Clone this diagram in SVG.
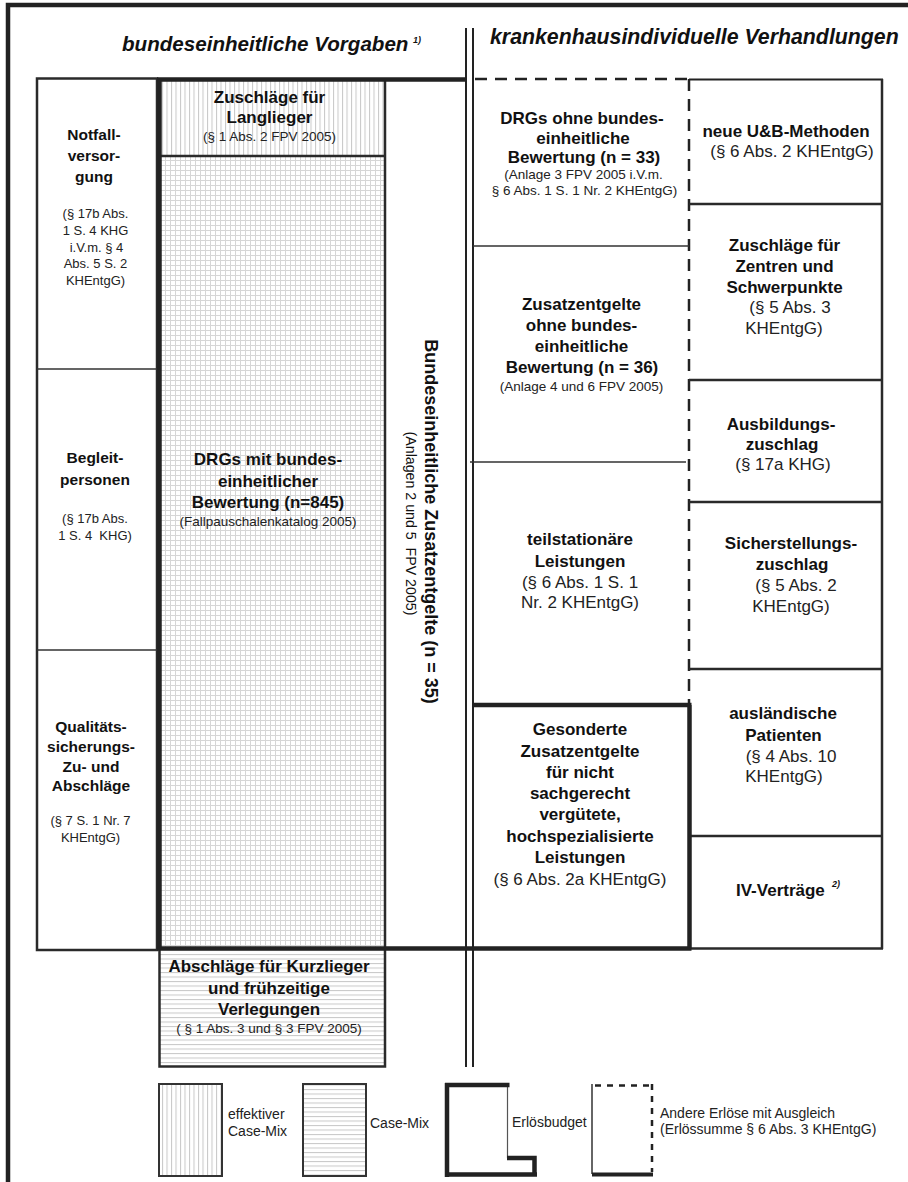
<svg xmlns="http://www.w3.org/2000/svg" width="908" height="1182" viewBox="0 0 908 1182">
<style>
text{font-family:"Liberation Sans",Arial,Helvetica,sans-serif;fill:#111}
.t{font-weight:bold;font-style:italic}
.b{font-weight:bold;font-size:17px}
.bl{font-weight:bold;font-size:15.5px}
.r{font-size:17px;fill:#222}
.s{font-size:13.5px;fill:#222}
.sl{font-size:13px;fill:#222}
.lg{font-size:14px;fill:#222}
.m{text-anchor:middle}
.thick{stroke:#222;stroke-width:4.5;fill:none}
.med{stroke:#2a2a2a;stroke-width:2.5;fill:none}
.thin{stroke:#333;stroke-width:1.3;fill:none}
.dash{stroke:#222;stroke-width:2.5;fill:none;stroke-dasharray:12 8}
</style>
<defs>
<pattern id="pv" width="4.5" height="4" patternUnits="userSpaceOnUse"><rect width="4.5" height="4" fill="#fff"/><line x1="0.5" y1="0" x2="0.5" y2="4" stroke="#c8c8c8" stroke-width="1"/></pattern>
<pattern id="ph" width="4" height="4.5" patternUnits="userSpaceOnUse"><rect width="4" height="4.5" fill="#fff"/><line x1="0" y1="0.5" x2="4" y2="0.5" stroke="#c8c8c8" stroke-width="1"/></pattern>
<pattern id="pg" width="5" height="5" patternUnits="userSpaceOnUse"><rect width="5" height="5" fill="#fff"/><path d="M0.5,0V5M0,0.5H5" stroke="#d6d6d6" stroke-width="1"/></pattern>
</defs>
<rect width="908" height="1182" fill="#fff"/>

<g id="fills">
<rect x="159.5" y="79" width="225.5" height="77" fill="url(#pv)"/>
<rect x="159.5" y="156" width="225.5" height="792" fill="url(#pg)"/>
<rect x="159.5" y="948" width="225.5" height="119" fill="url(#ph)"/>
</g>

<g id="title-left">
<text class="t" x="122" y="51" font-size="20.6">bundeseinheitliche Vorgaben</text>
<text class="t" x="413" y="43" font-size="9">1)</text>
</g>
<g id="title-right">
<text class="t" x="490" y="44" font-size="21.3">krankenhausindividuelle Verhandlungen</text>
</g>

<g id="connectors">
<path class="thick" d="M8,1182V5H908"/>
<path d="M466,28V1067M473,28V1067" stroke="#222" stroke-width="2" fill="none"/>
<rect x="37" y="78.5" width="120" height="871.5" class="med"/>
<path d="M37,369H157M37,650H157" stroke="#333" stroke-width="1.5" fill="none"/>
<path class="med" d="M159,156H385M385,79V948" stroke-width="3"/>
<path class="med" d="M159.5,948V1066.5H385V948" stroke-width="2.8"/>
<path class="dash" d="M475,79H689M689,79V705"/>
<path class="thin" d="M473,246H689M470,462H686"/>
<path d="M689,79.5H883" stroke="#222" stroke-width="2" fill="none"/>
<path class="med" d="M882,79V949M689,204H883M689,380H883M689,502H883M689,669H883M689,836H883M689,948.5H883"/>
<path class="thick" d="M157,79.5H466M159.5,79V948M157,948.5H691.5M689.5,948.5V705M473,705H691.5"/>
</g>

<g id="notfall">
<text class="bl m" x="94" y="140">Notfall-</text>
<text class="bl m" x="94" y="161">versor-</text>
<text class="bl m" x="94" y="182">gung</text>
<text class="sl m" x="95.5" y="218">(§ 17b Abs.</text>
<text class="sl m" x="95.5" y="235">1 S. 4 KHG</text>
<text class="sl m" x="96.5" y="252">i.V.m. § 4</text>
<text class="sl m" x="95.5" y="268">Abs. 5 S. 2</text>
<text class="sl m" x="95.5" y="285">KHEntgG)</text>
</g>
<g id="begleit">
<text class="bl m" x="95" y="463">Begleit-</text>
<text class="bl m" x="95" y="485">personen</text>
<text class="sl m" x="95" y="523">(§ 17b Abs.</text>
<text class="sl m" x="95" y="540" xml:space="preserve">1 S. 4  KHG)</text>
</g>
<g id="qualitaet">
<text class="bl m" x="91" y="732">Qualitäts-</text>
<text class="bl m" x="91" y="752">sicherungs-</text>
<text class="bl m" x="91" y="772">Zu- und</text>
<text class="bl m" x="91" y="791">Abschläge</text>
<text class="sl m" x="90.5" y="825">(§ 7 S. 1 Nr. 7</text>
<text class="sl m" x="90.5" y="842">KHEntgG)</text>
</g>

<g id="langlieger">
<text class="b m" x="269.5" y="103">Zuschläge für</text>
<text class="b m" x="269.5" y="123">Langlieger</text>
<text class="s m" x="269.5" y="141">(§ 1 Abs. 2 FPV 2005)</text>
</g>
<g id="drg-mit">
<text class="b m" x="268" y="465">DRGs mit bundes-</text>
<text class="b m" x="268" y="487">einheitlicher</text>
<text class="b m" x="268" y="508">Bewertung (n=845)</text>
<text class="s m" x="268" y="526">(Fallpauschalenkatalog 2005)</text>
</g>
<g id="zusatzentgelte-bund">
<text class="m" font-weight="bold" font-size="18" transform="translate(425,521.5) rotate(90)">Bundeseinheitliche Zusatzentgelte (n = 35)</text>
<text class="m" font-size="14.2" fill="#222" xml:space="preserve" transform="translate(406,523.5) rotate(90)">(Anlagen 2 und 5  FPV 2005)</text>
</g>
<g id="abschlaege">
<text class="b m" x="269" y="972">Abschläge für Kurzlieger</text>
<text class="b m" x="269" y="994">und frühzeitige</text>
<text class="b m" x="269" y="1015">Verlegungen</text>
<text class="s m" x="269" y="1033">( § 1 Abs. 3 und § 3 FPV 2005)</text>
</g>

<g id="drg-ohne">
<text class="b m" x="582" y="124">DRGs ohne bundes-</text>
<text class="b m" x="583" y="143.5">einheitliche</text>
<text class="b m" x="584" y="163">Bewertung (n = 33)</text>
<text class="s m" x="583.5" y="179">(Anlage 3 FPV 2005 i.V.m.</text>
<text class="s m" x="584.5" y="195">§ 6 Abs. 1 S. 1 Nr. 2 KHEntgG)</text>
</g>
<g id="ze-ohne">
<text class="b m" x="581.5" y="310">Zusatzentgelte</text>
<text class="b m" x="581.5" y="331">ohne bundes-</text>
<text class="b m" x="581.5" y="352">einheitliche</text>
<text class="b m" x="582" y="373">Bewertung (n = 36)</text>
<text class="s m" x="581.5" y="391">(Anlage 4 und 6 FPV 2005)</text>
</g>
<g id="teilstationaer">
<text class="b m" x="580" y="545">teilstationäre</text>
<text class="b m" x="580" y="567">Leistungen</text>
<text class="r m" x="580" y="588">(§ 6 Abs. 1 S. 1</text>
<text class="r m" x="580" y="608">Nr. 2 KHEntgG)</text>
</g>
<g id="gesonderte">
<text class="b m" x="580" y="735">Gesonderte</text>
<text class="b m" x="580" y="757">Zusatzentgelte</text>
<text class="b m" x="580" y="778">für nicht</text>
<text class="b m" x="580" y="799">sachgerecht</text>
<text class="b m" x="580" y="820">vergütete,</text>
<text class="b m" x="580" y="842">hochspezialisierte</text>
<text class="b m" x="580" y="863">Leistungen</text>
<text class="r m" x="580" y="885">(§ 6 Abs. 2a KHEntgG)</text>
</g>

<g id="ub-methoden">
<text class="b m" x="786" y="137">neue U&amp;B-Methoden</text>
<text class="r m" x="792" y="157">(§ 6 Abs. 2 KHEntgG)</text>
</g>
<g id="zentren">
<text class="b m" x="784.5" y="251">Zuschläge für</text>
<text class="b m" x="784.5" y="272">Zentren und</text>
<text class="b m" x="784.5" y="293">Schwerpunkte</text>
<text class="r m" x="790" y="313">(§ 5 Abs. 3</text>
<text class="r m" x="784" y="334">KHEntgG)</text>
</g>
<g id="ausbildung">
<text class="b m" x="781" y="430">Ausbildungs-</text>
<text class="b m" x="782" y="450">zuschlag</text>
<text class="r m" x="783" y="470">(§ 17a KHG)</text>
</g>
<g id="sicherstellung">
<text class="b m" x="791" y="549">Sicherstellungs-</text>
<text class="b m" x="792" y="570">zuschlag</text>
<text class="r m" x="796" y="591">(§ 5 Abs. 2</text>
<text class="r m" x="791" y="612">KHEntgG)</text>
</g>
<g id="auslaendische">
<text class="b m" x="783" y="719">ausländische</text>
<text class="b m" x="783.5" y="741">Patienten</text>
<text class="r m" x="791" y="762">(§ 4 Abs. 10</text>
<text class="r m" x="784" y="782">KHEntgG)</text>
</g>
<g id="iv-vertraege">
<text class="b" x="736" y="896">IV-Verträge</text>
<text class="t" x="832" y="887" font-size="9">2)</text>
</g>

<g id="legend">
<rect x="159" y="1084" width="63" height="92" fill="url(#pv)" stroke="#333" stroke-width="2"/>
<text class="lg" x="228" y="1119">effektiver</text>
<text class="lg" x="228" y="1136">Case-Mix</text>
<rect x="303" y="1084" width="63" height="92" fill="url(#ph)" stroke="#333" stroke-width="2"/>
<text class="lg" x="370" y="1128">Case-Mix</text>
<path d="M507.5,1085V1158" stroke="#555" stroke-width="1.2" fill="none"/>
<path class="thick" d="M445,1085H509.5M447,1083V1177M445,1174.5H537M507,1158H534.5V1176"/>
<text class="lg" x="512" y="1127">Erlösbudget</text>
<path d="M592,1084V1174" stroke="#333" stroke-width="1.5" fill="none"/>
<path d="M595,1085.5H653M652,1084V1172" stroke="#222" stroke-width="2.5" fill="none" stroke-dasharray="6 6"/>
<path d="M592,1174.5H653" stroke="#222" stroke-width="4" fill="none"/>
<text class="lg" x="660" y="1118">Andere Erlöse mit Ausgleich</text>
<text class="lg" x="660" y="1134">(Erlössumme § 6 Abs. 3 KHEntgG)</text>
</g>
</svg>
